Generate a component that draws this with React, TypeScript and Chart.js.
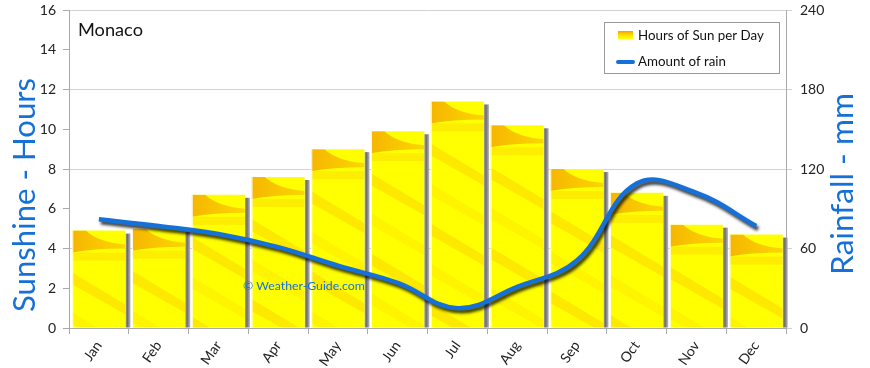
import React, { useEffect, useRef } from "react";
import { Chart, registerables } from "chart.js";
Chart.register(...registerables);

const months = ["Jan", "Feb", "Mar", "Apr", "May", "Jun", "Jul", "Aug", "Sep", "Oct", "Nov", "Dec"];
const sunHours = [4.9, 5.0, 6.7, 7.6, 9.0, 9.9, 11.4, 10.2, 8.0, 6.8, 5.2, 4.7];
const rainfall = [82, 77, 71, 61, 47, 34, 15, 31, 51, 109, 102, 77];
const hoursMax = 16;
const hoursStep = 2;
const rainMax = 240;
const rainStep = 60;

const cityName = "Monaco";
const sunLabel = "Hours of Sun per Day";
const rainLabel = "Amount of rain";
const leftTitle = "Sunshine - Hours";
const rightTitle = "Rainfall - mm";
const watermark = "© Weather-Guide.com";

const FONT = "Lato, 'Open Sans', sans-serif";
const BLUE = "#1570d8";

function fitText(ctx: CanvasRenderingContext2D, text: string, target: number, base: number) {
  ctx.font = `${base}px ${FONT}`;
  const w = ctx.measureText(text).width;
  const size = (base * target) / w;
  ctx.font = `${size}px ${FONT}`;
}

const decorPlugin = {
  id: "decor",
  beforeDatasetDraw(chart: any, args: any) {
    const ctx = chart.ctx as CanvasRenderingContext2D;
    if (args.meta.type === "bar") {
      ctx.save();
      args.meta.data.forEach((el: any) => {
        const { x, y, base, width } = el.getProps(["x", "y", "base", "width"], true);
        const r = x + width / 2;
        const g = ctx.createLinearGradient(r, 0, r + 5, 0);
        g.addColorStop(0, "#a0a0a0");
        g.addColorStop(0.4, "#6e6e6e");
        g.addColorStop(1, "#b8b8b8");
        ctx.fillStyle = g;
        ctx.fillRect(r, y + 3, 5, base - y - 3);
      });
      ctx.restore();
    } else if (args.meta.type === "line") {
      ctx.save();
      ctx.shadowColor = "rgba(0,0,0,0.75)";
      ctx.shadowOffsetX = 2;
      ctx.shadowOffsetY = 3;
      ctx.shadowBlur = 3;
    }
  },
  afterDatasetDraw(chart: any, args: any) {
    const ctx = chart.ctx as CanvasRenderingContext2D;
    if (args.meta.type === "bar") {
      args.meta.data.forEach((el: any) => {
        const { x, y, base, width } = el.getProps(["x", "y", "base", "width"], true);
        const l = x - width / 2;
        const r = x + width / 2;
        const t = y;
        const h = base - y;
        ctx.save();
        ctx.beginPath();
        ctx.rect(l, t, width, h);
        ctx.clip();
        // top wing
        const wg = ctx.createLinearGradient(l, 0, r, 0);
        wg.addColorStop(0, "rgba(242,150,0,0.7)");
        wg.addColorStop(1, "rgba(245,165,0,0.45)");
        ctx.fillStyle = wg;
        ctx.beginPath();
        ctx.moveTo(l, t);
        ctx.lineTo(l + width * 0.25, t);
        ctx.quadraticCurveTo(l + width * 0.5, t + 12, r, t + 14);
        ctx.lineTo(r, t + 18);
        ctx.quadraticCurveTo(l + width * 0.4, t + 18, l, t + 22);
        ctx.closePath();
        ctx.fill();
        ctx.fillStyle = "rgba(245,175,0,0.22)";
        ctx.fillRect(l, t + 22, width, 8);
        // diagonal streaks
        for (let k = 0; k < 8; k++) {
          const sy = t + 42 + k * 40;
          ctx.fillStyle = k % 2 === 0 ? "rgba(245,165,0,0.24)" : "rgba(245,180,0,0.15)";
          ctx.beginPath();
          ctx.moveTo(l, sy);
          ctx.lineTo(r, sy + 32);
          ctx.lineTo(r, sy + 42);
          ctx.lineTo(l, sy + 12);
          ctx.closePath();
          ctx.fill();
        }
        ctx.restore();
        ctx.save();
        ctx.strokeStyle = "rgba(255,255,255,0.9)";
        ctx.lineWidth = 1;
        ctx.beginPath();
        ctx.moveTo(l + 0.5, t);
        ctx.lineTo(l + 0.5, base);
        ctx.stroke();
        ctx.restore();
      });
      // watermark
      ctx.save();
      ctx.fillStyle = BLUE;
      fitText(ctx, watermark, 122, 12);
      ctx.textBaseline = "middle";
      ctx.textAlign = "left";
      ctx.fillText(watermark, 243, 286);
      ctx.restore();
    } else if (args.meta.type === "line") {
      ctx.restore();
    }
  },
  afterDraw(chart: any) {
    const ctx = chart.ctx as CanvasRenderingContext2D;
    ctx.save();
    // city title
    ctx.fillStyle = "#111";
    fitText(ctx, cityName, 65, 19);
    ctx.textBaseline = "middle";
    ctx.textAlign = "left";
    ctx.fillText(cityName, 78, 30);
    // axis titles
    ctx.fillStyle = BLUE;
    ctx.save();
    ctx.translate(25, 195);
    ctx.rotate(-Math.PI / 2);
    fitText(ctx, leftTitle, 234, 26);
    ctx.textAlign = "center";
    ctx.textBaseline = "middle";
    ctx.fillText(leftTitle, 0, 0);
    ctx.restore();
    ctx.save();
    ctx.translate(843, 184);
    ctx.rotate(-Math.PI / 2);
    fitText(ctx, rightTitle, 182, 26);
    ctx.textAlign = "center";
    ctx.textBaseline = "middle";
    ctx.fillText(rightTitle, 0, 0);
    ctx.restore();
    // legend
    ctx.fillStyle = "#ffffff";
    ctx.fillRect(604.5, 22.5, 175, 51);
    ctx.strokeStyle = "#9a9a9a";
    ctx.lineWidth = 1;
    ctx.strokeRect(604.5, 22.5, 175, 51);
    const ig = ctx.createLinearGradient(0, 31, 0, 39);
    ig.addColorStop(0, "#f5a000");
    ig.addColorStop(0.5, "#ffe000");
    ig.addColorStop(1, "#ffff00");
    ctx.fillStyle = ig;
    ctx.fillRect(618, 31, 15, 8);
    ctx.strokeStyle = BLUE;
    ctx.lineWidth = 4;
    ctx.lineCap = "round";
    ctx.beginPath();
    ctx.moveTo(618, 62);
    ctx.lineTo(633, 62);
    ctx.stroke();
    ctx.fillStyle = "#111";
    ctx.textBaseline = "middle";
    ctx.textAlign = "left";
    fitText(ctx, sunLabel, 126, 14);
    ctx.fillText(sunLabel, 638, 36);
    const s = parseFloat(ctx.font);
    ctx.font = `${s}px ${FONT}`;
    ctx.fillText(rainLabel, 638, 62);
    ctx.restore();
  },
};

const fixV = (w: number) => (s: any) => {
  s.width = w;
  s.paddingTop = 0;
  s.paddingBottom = 0;
};

export default function App() {
  const ref = useRef<HTMLCanvasElement>(null);
  useEffect(() => {
    document.body.style.margin = "0";
    const c = ref.current!;
    const chart = new Chart(c, {
      type: "bar",
      data: {
        labels: months,
        datasets: [
          {
            type: "line",
            label: rainLabel,
            data: rainfall,
            yAxisID: "y1",
            borderColor: BLUE,
            borderWidth: 4.5,
            pointRadius: 0,
            tension: 0.4,
            fill: false,
            order: 0,
          } as any,
          {
            type: "bar",
            label: sunLabel,
            data: sunHours,
            yAxisID: "y",
            backgroundColor: "#ffff00",
            borderWidth: 0,
            barPercentage: 0.89,
            categoryPercentage: 1,
            order: 1,
          },
        ],
      },
      options: {
        responsive: false,
        animation: false,
        layout: { padding: { top: 10, left: 0, right: 0, bottom: 0 } },
        plugins: { legend: { display: false }, tooltip: { enabled: false } },
        scales: {
          x: {
            offset: true,
            grid: { offset: true, drawOnChartArea: false, tickLength: 6, color: "#aaa" },
            border: { color: "#aaa" },
            ticks: {
              minRotation: 55,
              maxRotation: 55,
              color: "#222",
              font: { family: FONT, size: 14 },
              padding: 4,
            },
            afterFit: (s: any) => {
              s.height = 40;
              s.paddingLeft = 0;
              s.paddingRight = 0;
            },
          },
          y: {
            position: "left",
            min: 0,
            max: hoursMax,
            ticks: { stepSize: hoursStep, color: "#222", font: { family: FONT, size: 14 }, padding: 7 },
            grid: { drawOnChartArea: false, tickLength: 6, color: "#aaa" },
            border: { color: "#aaa" },
            afterFit: fixV(69),
          },
          y1: {
            position: "right",
            min: 0,
            max: rainMax,
            ticks: { stepSize: rainStep, color: "#222", font: { family: FONT, size: 14 }, padding: 8 },
            grid: { drawOnChartArea: true, tickLength: 6, color: "#d2d2d2" },
            border: { color: "#aaa" },
            afterFit: fixV(84),
          },
        },
      },
      plugins: [decorPlugin],
    });
    return () => chart.destroy();
  }, []);
  return <canvas ref={ref} width={870} height={368} style={{ display: "block" }} />;
}
